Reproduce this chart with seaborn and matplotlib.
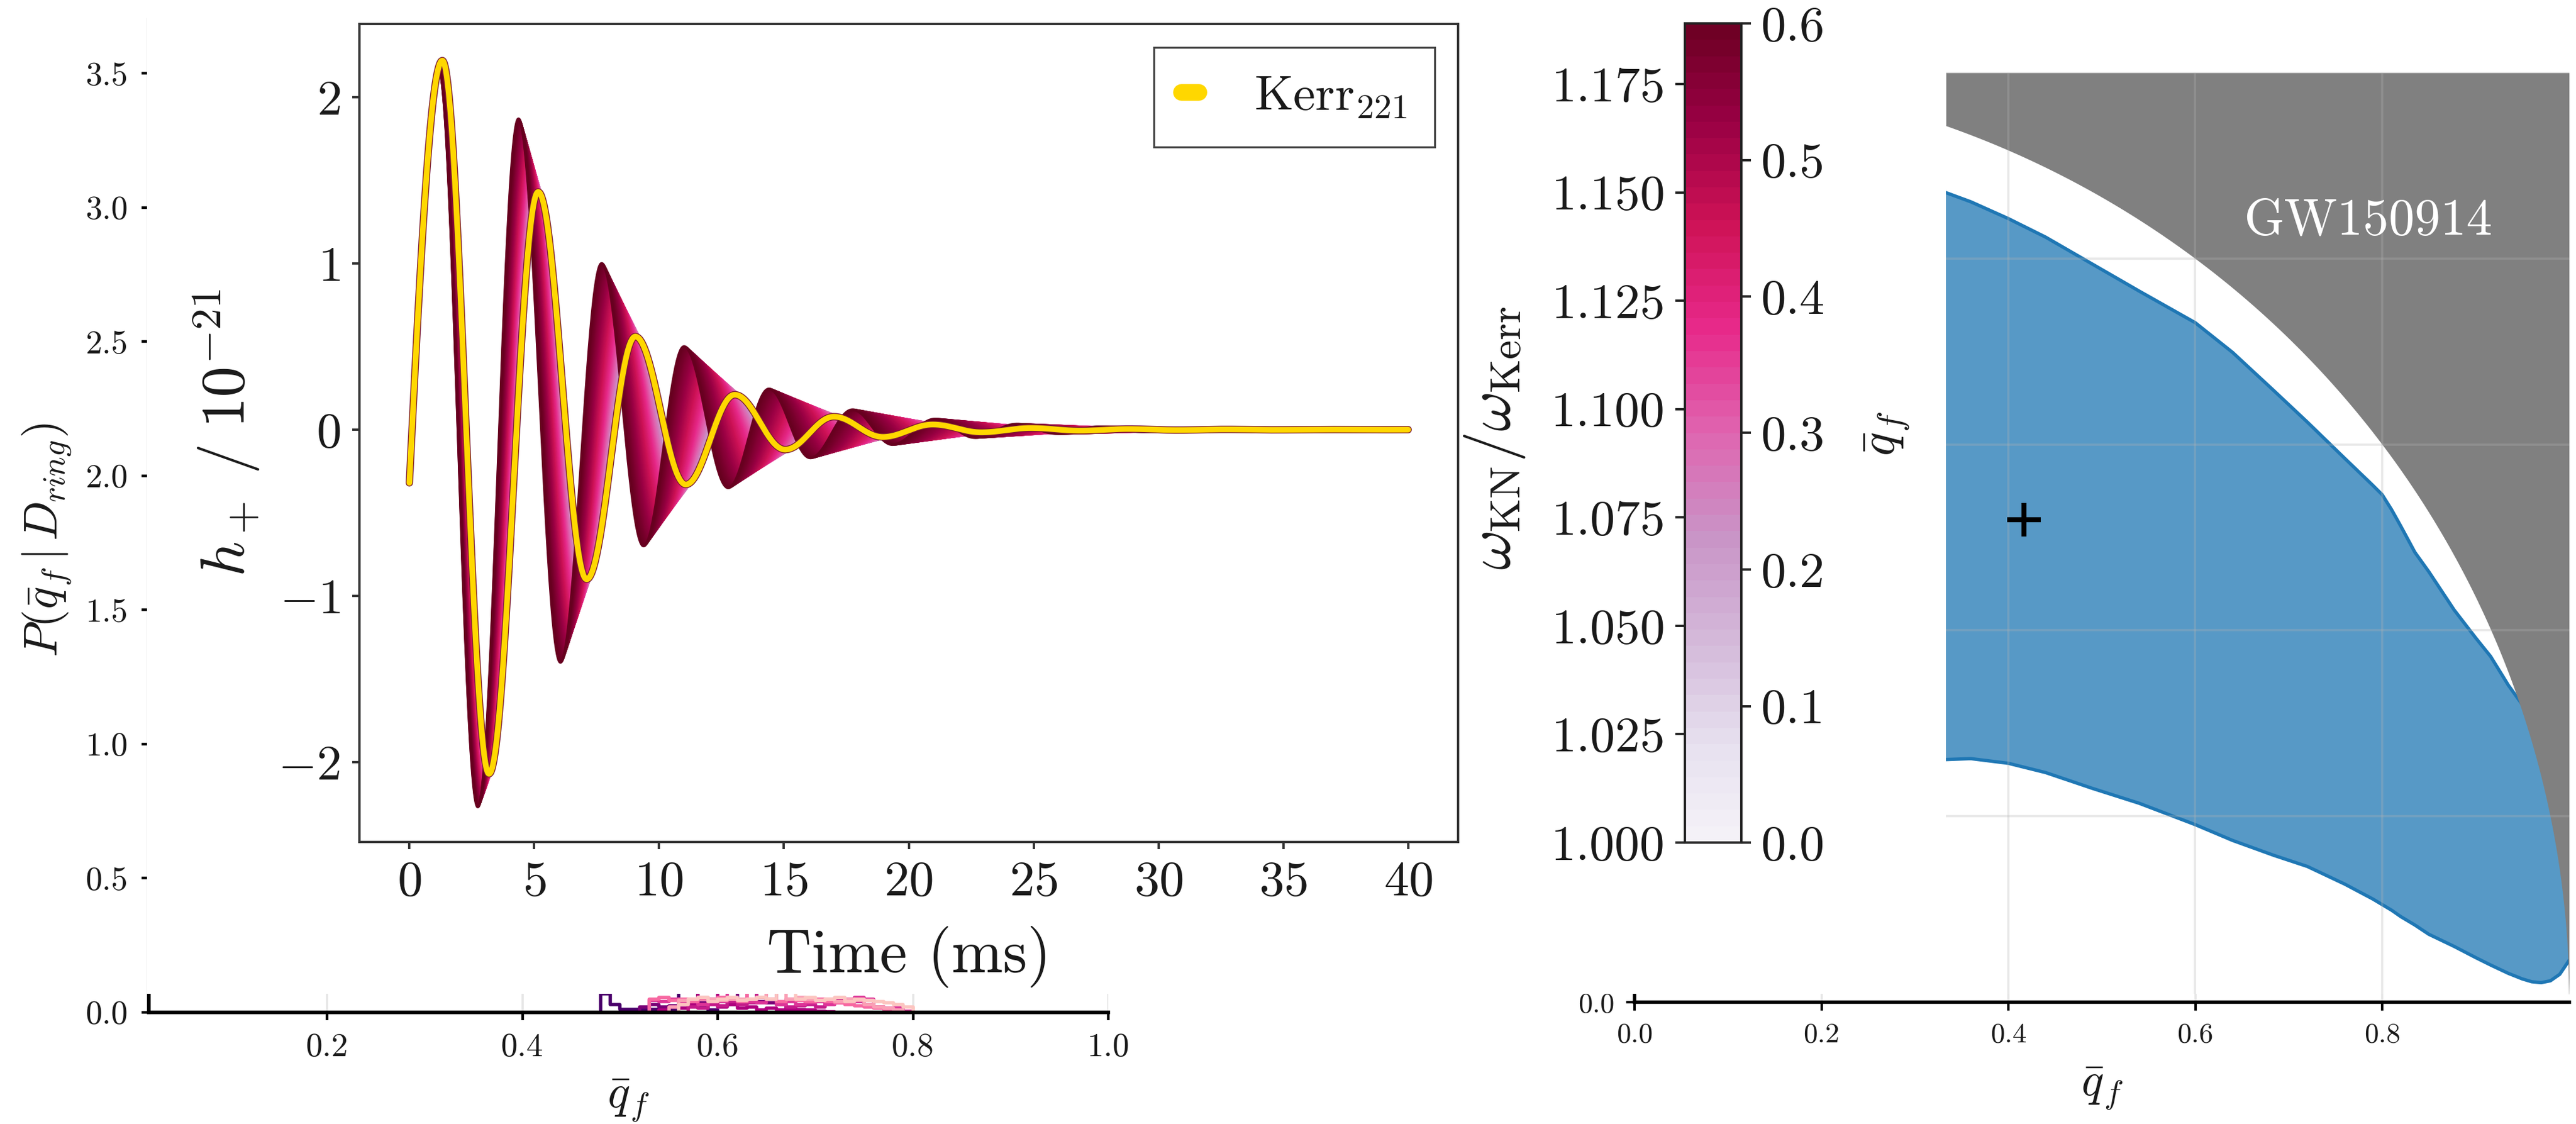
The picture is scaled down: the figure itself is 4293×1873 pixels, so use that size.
import numpy as np
import pandas as pd
import matplotlib
matplotlib.use("Agg")
import matplotlib as mpl
import matplotlib.pyplot as plt
import matplotlib.patheffects as pe
from matplotlib.lines import Line2D
from matplotlib.patches import Rectangle
from matplotlib.ticker import FormatStrFormatter, FixedFormatter
import seaborn as sns

# ------------------------------------------------------------------
# Ringdown waveforms: successive extrema (time in ms, h_+ in 1e-21)
# ------------------------------------------------------------------
h_start = -0.32
kerr_t = [1.32, 3.19, 5.16, 7.10, 9.05, 11.07, 13.03, 15.05, 17.00, 18.96,
          20.96, 22.90, 24.90, 26.85, 28.80, 30.75, 32.70, 34.65, 36.60, 38.55]
kerr_h = [2.22, -2.07, 1.43, -0.90, 0.56, -0.33, 0.21, -0.12, 0.078, -0.044,
          0.031, -0.016, 0.010, -0.006, 0.004, -0.0025, 0.0015, -0.001, 0.0006, -0.0004]
# Kerr-Newman waveform at the largest charge of the family
kn_t = [1.17, 2.74, 4.37, 6.05, 7.70, 9.38, 11.00, 12.77, 14.40, 16.06,
        17.75, 19.35, 21.05, 22.65, 24.30, 25.95, 27.60, 29.25, 30.90, 32.55]
kn_h = [2.17, -2.27, 1.87, -1.40, 1.00, -0.70, 0.50, -0.35, 0.245, -0.17,
        0.12, -0.09, 0.064, -0.048, 0.033, -0.024, 0.017, -0.012, 0.008, -0.006]
t_end = 40.0

charge_min, charge_max = 0.0, 0.6
ratio_min, ratio_max = 1.0, 1.189
n_band = 121

# ------------------------------------------------------------------
# Posterior histograms of the charge-to-mass ratio (bins of 0.01 from 0.47)
# ------------------------------------------------------------------
hist_lo, hist_hi, hist_nbins = 0.47, 0.81, 34
hist_colors = ["#49006a", "#7a0177", "#ae017e", "#c51b8a",
               "#dd3497", "#f768a1", "#fa9fb5", "#fcc5c0"]
hist_heights = [
    [0, 0.07, 0.03, 0.012, 0.012, 0.012, 0.012, 0.012, 0.012, 2.8,
     3.2, 0.02, 0.01, 0, 0, 0, 0, 0, 0, 0,
     0, 0, 0, 0, 0, 0, 0, 0, 0, 0,
     0, 0, 0, 0],
    [0, 0, 0, 0, 0, 0.02, 0.03, 0.02, 0.025, 0.03,
     0.045, 0.035, 0.05, 0.04, 0.03, 3.0, 2.9, 0.04, 0.035, 0.03,
     0.015, 0.01, 0.005, 0, 0, 0, 0, 0, 0, 0,
     0, 0, 0, 0],
    [0, 0, 0, 0, 0, 0, 0, 0.01, 0.02, 0.015,
     0.03, 3.1, 2.9, 0.02, 0.03, 0.015, 0.02, 0.01, 0.015, 0.01,
     0.012, 0.01, 0.008, 0.005, 0.003, 0, 0, 0, 0, 0,
     0, 0, 0, 0],
    [0, 0, 0, 0, 0, 0, 0, 0, 0, 0,
     0.02, 0.015, 0.03, 0.025, 0.04, 0.03, 0.035, 3.0, 2.7, 0.03,
     0.02, 0.025, 0.03, 0.02, 0.04, 0.045, 0.05, 0.04, 0.03, 0.02,
     0.015, 0.015, 0, 0],
    [0, 0, 0, 0, 0, 0, 0.045, 0.04, 0.05, 0.035,
     0.04, 0.03, 0.045, 0.04, 3.1, 2.8, 0.04, 0.035, 0.05, 0.03,
     0.04, 0.03, 0.035, 0.04, 0.03, 0.035, 0.04, 0.055, 0.05, 0.02,
     0.015, 0.015, 0.005, 0],
    [0, 0, 0, 0, 0, 0, 0.05, 0.055, 0.045, 0.05,
     0.04, 0.05, 0.045, 0.055, 0.05, 0.04, 2.9, 3.0, 0.05, 0.04,
     0.05, 0.045, 0.04, 0.05, 0.04, 0.035, 0.03, 0.025, 0.02, 0.015,
     0.01, 0.005, 0, 0],
    [0, 0, 0, 0, 0, 0, 0, 0, 0.02, 0.045,
     0.05, 0.055, 0.05, 0.045, 0.05, 0.05, 0.05, 0.055, 2.6, 3.0,
     0.05, 0.055, 0.05, 0.045, 0.05, 0.04, 0.05, 0.045, 0.03, 0.02,
     0.015, 0.01, 0, 0],
    [0, 0, 0, 0, 0, 0, 0, 0, 0, 0.03,
     0.05, 0.055, 0.04, 0.05, 0.055, 0.045, 0.05, 0.055, 0.05, 2.7,
     3.1, 0.05, 0.055, 0.045, 0.05, 0.055, 0.04, 0.05, 0.045, 0.04,
     0.035, 0.03, 0.02, 0],
]

# ------------------------------------------------------------------
# GW150914 credible region in the (q_f, chi_f) plane
# ------------------------------------------------------------------
region_x = [0.333, 0.36, 0.40, 0.44, 0.49, 0.54, 0.60, 0.64, 0.684, 0.72,
            0.76, 0.79, 0.80, 0.81, 0.82, 0.835, 0.85, 0.877, 0.90, 0.916,
            0.935, 0.95, 0.96, 0.97, 0.98, 0.99, 1.0]
region_upper = [0.871, 0.861, 0.843, 0.823, 0.794, 0.765, 0.731, 0.699, 0.658, 0.624,
                0.585, 0.556, 0.546, 0.530, 0.512, 0.484, 0.463, 0.422, 0.392, 0.372,
                0.341, 0.320, 0.305, 0.290, 0.275, 0.260, 0.250]
region_lower = [0.261, 0.262, 0.257, 0.247, 0.230, 0.214, 0.191, 0.174, 0.158, 0.146,
                0.127, 0.111, 0.105, 0.099, 0.092, 0.083, 0.073, 0.060, 0.048, 0.040,
                0.031, 0.025, 0.022, 0.021, 0.023, 0.030, 0.045]
best_fit = (0.417, 0.519)
event_name = "GW150914"

# ------------------------------------------------------------------
# Style
# ------------------------------------------------------------------
sns.set_style("ticks")
plt.rcParams.update({
    "font.family": ["cmr10"],
    "mathtext.fontset": "cm",
    "axes.formatter.use_mathtext": True,
    "axes.unicode_minus": True,
    "text.color": "#1a1a1a",
    "axes.labelcolor": "#1a1a1a",
    "xtick.color": "#1a1a1a",
    "ytick.color": "#1a1a1a",
})

W, H = 4293, 1873
DPI = 200
fig = plt.figure(figsize=(W / DPI, H / DPI), dpi=DPI)


def box(x0, y0, x1, y1):
    """Axes rectangle from pixel corners (top-left origin)."""
    return [x0 / W, 1 - y1 / H, (x1 - x0) / W, (y1 - y0) / H]


def ringdown_path(t, start, t_ext, h_ext, t_stop):
    """Smooth path through successive extrema of a ringdown signal."""
    t_ext = np.asarray(t_ext, float)
    h_ext = np.asarray(h_ext, float)
    h = np.zeros_like(t)
    m = t <= t_ext[0]
    h[m] = start + (h_ext[0] - start) * np.sin(0.5 * np.pi * t[m] / t_ext[0])
    for i in range(len(t_ext) - 1):
        m = (t > t_ext[i]) & (t <= t_ext[i + 1])
        s = (t[m] - t_ext[i]) / (t_ext[i + 1] - t_ext[i])
        h[m] = h_ext[i] + (h_ext[i + 1] - h_ext[i]) * (1 - np.cos(np.pi * s)) / 2
    m = t > t_ext[-1]
    s = (t[m] - t_ext[-1]) / (t_stop - t_ext[-1])
    h[m] = h_ext[-1] * (1 + np.cos(np.pi * s)) / 2
    return h


# ==================================================================
# Posterior P(q_f | D_ring)
# ==================================================================
axA = fig.add_axes(box(248, 33, 1847, 1687), zorder=1)
hist_edges = [float(v) for v in np.linspace(hist_lo, hist_hi, hist_nbins + 1)]
centers = [0.5 * (a + b) for a, b in zip(hist_edges[:-1], hist_edges[1:])]
for col, hts in zip(hist_colors, hist_heights):
    sns.histplot(x=centers, weights=hts, bins=hist_edges, element="step", fill=False,
                 color=col, linewidth=2.0, ax=axA)
axA.set_xlim(0.0175, 1.0)
axA.set_ylim(0, 3.7)
axA.set_xticks([0.2, 0.4, 0.6, 0.8, 1.0])
axA.set_yticks(np.arange(0, 3.51, 0.5))
axA.xaxis.set_major_formatter(FormatStrFormatter("%.1f"))
axA.yaxis.set_major_formatter(FormatStrFormatter("%.1f"))
axA.grid(axis="x", color="#e6e6e6", lw=1.3)
sns.despine(ax=axA)
for s in ("left", "bottom"):
    axA.spines[s].set_linewidth(2.2)
    axA.spines[s].set_color("black")
axA.tick_params(labelsize=20, length=4.5, width=1.6, pad=8, color="black")
axA.set_xlabel(r"$\bar{q}_f$", fontsize=28)
axA.set_ylabel(r"$P(\bar{q}_f\,|\,D_{ring})$", fontsize=28)
axA.xaxis.set_label_coords(0.5, -0.066)
axA.yaxis.set_label_coords(-0.079, 0.476)

# ==================================================================
# Exclusion plane (axis frame)
# ==================================================================
axD = fig.add_axes(box(2724, 121, 4281.5, 1670), zorder=1)
axD.set_xlim(0, 1)
axD.set_ylim(0, 1)
axD.set_xticks([0.0, 0.2, 0.4, 0.6, 0.8])
axD.set_yticks([0.0, 0.2, 0.4, 0.6, 0.8, 1.0])
axD.xaxis.set_major_formatter(FormatStrFormatter("%.1f"))
axD.yaxis.set_major_formatter(FixedFormatter(["0.0", "", "", "", "", ""]))
axD.grid(color="#e6e6e6", lw=1.3)
sns.despine(ax=axD)
for s in ("left", "bottom"):
    axD.spines[s].set_linewidth(2.0)
    axD.spines[s].set_color("black")
axD.tick_params(labelsize=17, length=5.2, width=1.5, pad=7, color="black")
axD.set_xlabel(r"$\bar{q}_f$", fontsize=28)
axD.xaxis.set_label_coords(0.5, -0.069)

# white backdrop of the upper panels
fig.add_artist(Rectangle((245 / W, 1 - 1656 / H), 1 - 245 / W, 1656 / H,
                         transform=fig.transFigure, facecolor="white",
                         edgecolor="none", zorder=2))

# ==================================================================
# Ringdown waveforms
# ==================================================================
axB = fig.add_axes(box(599, 40, 2430, 1403), zorder=3)
t = np.linspace(0, t_end, 2001)
charges = np.linspace(charge_min, charge_max, n_band)
frames = []
for q in charges:
    w = (q / charge_max) ** 2
    te = (1 - w) * np.asarray(kerr_t) + w * np.asarray(kn_t)
    he = (1 - w) * np.asarray(kerr_h) + w * np.asarray(kn_h)
    frames.append(pd.DataFrame({"t": t, "h": ringdown_path(t, h_start, te, he, t_end), "q": q}))
band = pd.concat(frames, ignore_index=True)
sns.lineplot(data=band, x="t", y="h", hue="q", palette="PuRd",
             hue_norm=(charge_min, charge_max), estimator=None, sort=False,
             legend=False, lw=1.6, ax=axB)

kerr_curve = ringdown_path(t, h_start, kerr_t, kerr_h, t_end)
gold = "#ffd700"
sns.lineplot(x=t, y=kerr_curve, color=gold, lw=3.4, ax=axB, zorder=5,
             solid_capstyle="round",
             path_effects=[pe.Stroke(linewidth=4.4, foreground="#7a1a30"), pe.Normal()])

axB.set_xlim(-2, 42)
axB.set_ylim(-2.48, 2.44)
axB.set_xticks(np.arange(0, 41, 5))
axB.set_yticks([-2, -1, 0, 1, 2])
for s in axB.spines.values():
    s.set_linewidth(1.4)
    s.set_color("#333333")
axB.tick_params(labelsize=30, length=4.3, width=1.4, pad=7, color="#333333")
axB.set_xlabel("Time (ms)", fontsize=37)
axB.set_ylabel(r"$h_+\;/\;10^{-21}$", fontsize=37)
axB.xaxis.set_label_coords(0.5, -0.103)
axB.yaxis.set_label_coords(-0.089, 0.5)
handle = Line2D([], [], color=gold, lw=10, solid_capstyle="round")
leg = axB.legend([handle], [r"Kerr$_{221}$"], loc="upper right", fontsize=30,
                 frameon=True, fancybox=False, framealpha=1, edgecolor="#444444",
                 handlelength=0.35, handletextpad=1.1, borderpad=0.55,
                 borderaxespad=0.47)
leg.get_frame().set_linewidth(1.2)

# ==================================================================
# Colour bar: charge (right) and frequency ratio (left)
# ==================================================================
cax = fig.add_axes(box(2808, 39, 2902, 1404), zorder=3)
cmap = mpl.colors.ListedColormap(sns.color_palette("PuRd", 50))
sm = mpl.cm.ScalarMappable(norm=mpl.colors.Normalize(charge_min, charge_max), cmap=cmap)
cb = fig.colorbar(sm, cax=cax)
cb.set_ticks(np.arange(0, 0.61, 0.1))
cb.ax.yaxis.set_major_formatter(FormatStrFormatter("%.1f"))
cb.outline.set_linewidth(1.4)
cb.outline.set_edgecolor("#222222")
cax.tick_params(labelsize=30, length=5.8, width=1.4, pad=6, color="#222222")

wax = fig.add_axes(box(2808, 39, 2902, 1404), zorder=4)
wax.patch.set_visible(False)
wax.set_ylim(ratio_min, ratio_max)
wax.set_yticks(np.arange(1.0, 1.1751, 0.025))
wax.yaxis.set_major_formatter(FormatStrFormatter("%.3f"))
wax.xaxis.set_visible(False)
for s in wax.spines.values():
    s.set_visible(False)
wax.tick_params(labelsize=30, length=5.8, width=1.4, pad=6, color="#222222")
wax.set_ylabel(r"$\omega_{\rm KN}/\omega_{\rm Kerr}$", fontsize=37)
wax.yaxis.set_label_coords(-2.80, 0.494)

# ==================================================================
# Credible region with the extremal (q^2 + chi^2 > 1) area shaded
# ==================================================================
axE = fig.add_axes(box(3243, 121, 4281.5, 1656), zorder=3)
axE.set_facecolor("white")
axE.set_xlim(1 / 3, 1.0)
axE.set_ylim((1670 - 1656) / 1549, 1.0)
axE.fill_between(region_x, region_lower, region_upper, color="tab:blue",
                 alpha=0.75, lw=0, zorder=1)
axE.plot(region_x, region_upper, color="tab:blue", lw=2.0, zorder=1.5)
axE.plot(region_x, region_lower, color="tab:blue", lw=2.0, zorder=1.5)
xc = np.linspace(1 / 3, 1.0, 600)
axE.fill_between(xc, np.sqrt(np.clip(1 - xc ** 2, 0, None)), 1.0,
                 color="#808080", lw=0, zorder=2)
axE.plot([best_fit[0]], [best_fit[1]], marker="+", color="black",
         markersize=20, mew=3.0, ls="none", zorder=3)
axE.text(0.785, 0.84, event_name, color="white", fontsize=31,
         ha="center", va="center", zorder=3)
axE.set_xticks([0.4, 0.6, 0.8])
axE.set_yticks([0.2, 0.4, 0.6, 0.8, 1.0])
axE.set_axisbelow(False)
axE.grid(color="0.7", alpha=0.3, lw=1.3)
axE.tick_params(length=0, labelbottom=False, labelleft=False)
for s in axE.spines.values():
    s.set_visible(False)
axE.set_ylabel(r"$\bar{q}_f$", fontsize=30)
axE.yaxis.set_label_coords(-0.056, 0.608)

fig.savefig("out.png", dpi=DPI)
